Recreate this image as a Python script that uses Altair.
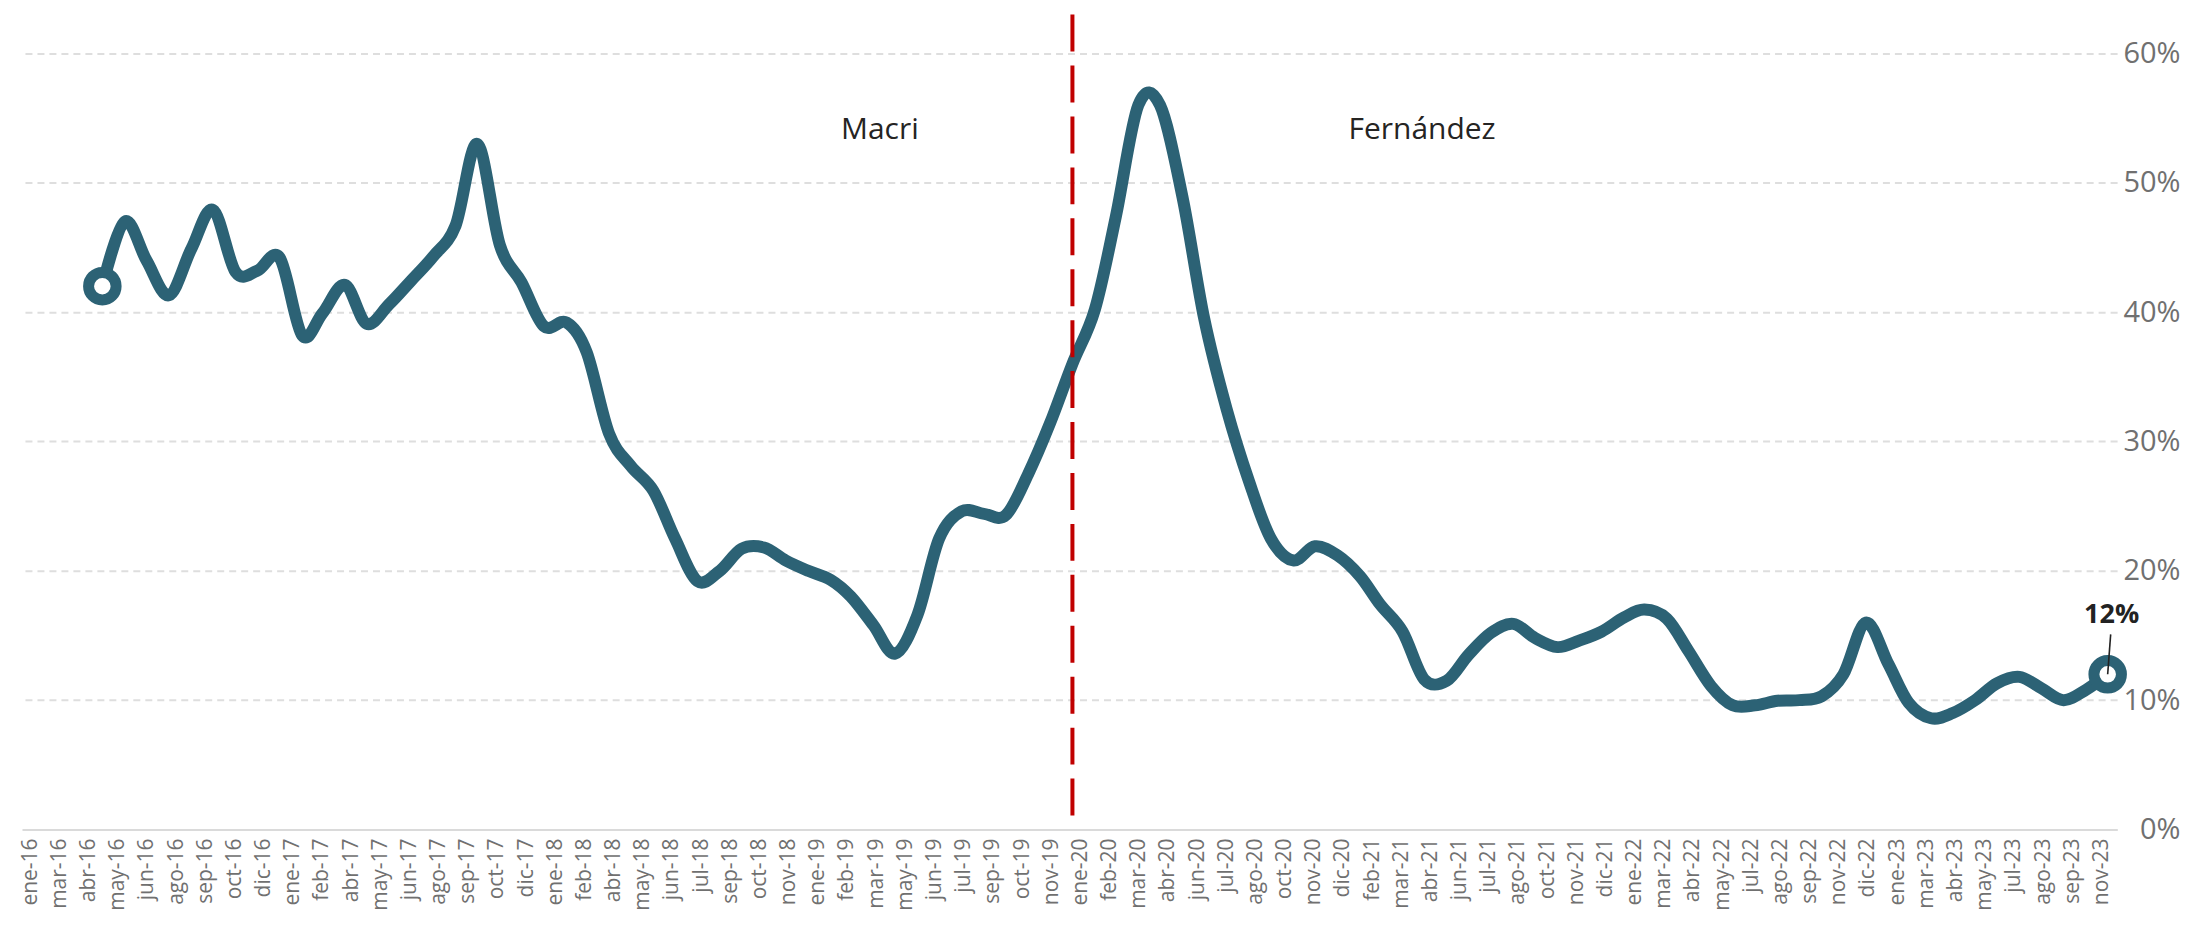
import calendar
import altair as alt
import pandas as pd

# ---- data (percent), one value per month, abr-16 .. nov-23 ----
VALUES_2016 = [42.0, 47.0, 44.0, 41.3, 44.9, 47.9, 43.1, 43.2, 44.2]          # abr-dic
VALUES_2017 = [38.2, 39.9, 42.1, 39.1, 40.6, 42.4, 44.3, 46.7, 53.0, 45.2, 42.3, 38.9]
VALUES_2018 = [39.2, 36.9, 30.6, 28.1, 26.2, 22.5, 19.2, 20.0, 21.7, 21.8, 20.8, 20.0]
VALUES_2019 = [19.3, 18.0, 15.8, 13.6, 16.6, 22.5, 24.6, 24.4, 24.3, 27.5, 31.4, 36.0]
VALUES_2020 = [40.2, 47.4, 56.0, 56.0, 48.9, 39.5, 32.5, 26.9, 22.5, 20.8, 21.9, 21.2]
VALUES_2021 = [19.6, 17.4, 15.3, 11.6, 11.5, 13.5, 15.2, 15.9, 14.8, 14.1, 14.6, 15.3]
VALUES_2022 = [16.4, 17.0, 16.3, 13.8, 11.1, 9.6, 9.6, 9.95, 10.0, 10.3, 12.0, 16.0]
VALUES_2023 = [12.8, 9.8, 8.6, 9.0, 10.0, 11.3, 11.8, 10.9, 10.0, 10.8, 12.0]   # ene-nov

FIRST_MONTH = (2016, 4)

TICK_LABELS = [
    "ene-16", "mar-16", "abr-16", "may-16", "jun-16", "ago-16", "sep-16", "oct-16", "dic-16",
    "ene-17", "feb-17", "abr-17", "may-17", "jun-17", "ago-17", "sep-17", "oct-17", "dic-17",
    "ene-18", "feb-18", "abr-18", "may-18", "jun-18", "jul-18", "sep-18", "oct-18", "nov-18",
    "ene-19", "feb-19", "mar-19", "may-19", "jun-19", "jul-19", "sep-19", "oct-19", "nov-19",
    "ene-20", "feb-20", "mar-20", "abr-20", "jun-20", "jul-20", "ago-20", "oct-20", "nov-20", "dic-20",
    "feb-21", "mar-21", "abr-21", "jun-21", "jul-21", "ago-21", "oct-21", "nov-21", "dic-21",
    "ene-22", "mar-22", "abr-22", "may-22", "jul-22", "ago-22", "sep-22", "nov-22", "dic-22",
    "ene-23", "mar-23", "abr-23", "may-23", "jul-23", "ago-23", "sep-23", "nov-23",
]
Y_TICKS = [0, 10, 20, 30, 40, 50, 60]

PERIODS = ["Macri", "Fernández"]
PERIOD_LABEL_DATES = ["2019-04-09", "2021-04-27"]
PERIOD_LABEL_Y = [53.4, 53.4]
CHANGE_DATE = "2019-12-31"

LINE_COLOR = "#2C6275"
RED = "#C00000"
GREY = "#707070"
FONT = "Open Sans"
PLOT_W, PLOT_H = 2098, 816

# ---- build tables ----
values = (VALUES_2016 + VALUES_2017 + VALUES_2018 + VALUES_2019 +
          VALUES_2020 + VALUES_2021 + VALUES_2022 + VALUES_2023)
dates = []
y, m = FIRST_MONTH
for _ in values:
    dates.append(f"{y:04d}-{m:02d}-{calendar.monthrange(y, m)[1]:02d}")
    m += 1
    if m > 12:
        m = 1
        y += 1
df = pd.DataFrame({"date": dates, "value": values})
ends = df.iloc[[0, len(df) - 1]].reset_index(drop=True)
last = df.iloc[[len(df) - 1]].reset_index(drop=True)
periods = pd.DataFrame({"label": PERIODS, "date": PERIOD_LABEL_DATES, "y": PERIOD_LABEL_Y})

tick_dates = pd.date_range("2016-01-22", "2023-11-22", periods=len(TICK_LABELS))
ticks = pd.DataFrame({
    "date": [t.strftime("%Y-%m-%dT%H:%M:%S") for t in tick_dates],
    "label": TICK_LABELS,
})

x_scale = alt.Scale(domain=[alt.DateTime(year=2016, month=1, date=10, utc=True),
                            alt.DateTime(year=2023, month=12, date=13, utc=True)])
y_scale = alt.Scale(domain=[0, 63], nice=False, zero=True)

x_axis = alt.Axis(
    labels=False,
    ticks=False,
    grid=False,
    domain=True,
    domainColor="#dadada",
    domainWidth=2,
    title=None,
)
y_axis = alt.Axis(
    orient="right",
    values=Y_TICKS,
    labelExpr="datum.value + '%'",
    labelFontSize=29,
    labelColor=GREY,
    labelFont=FONT,
    labelAlign="right",
    labelPadding=63,
    labelBaseline="middle",
    ticks=False,
    domain=False,
    grid=True,
    gridColor="#dedede",
    gridDash=[7, 5],
    gridWidth=2,
    title=None,
)

line = alt.Chart(df).mark_line(
    color=LINE_COLOR, strokeWidth=12, interpolate="cardinal", strokeCap="round", strokeJoin="round"
).encode(
    x=alt.X("date:T", scale=x_scale, axis=x_axis),
    y=alt.Y("value:Q", scale=y_scale, axis=y_axis),
)

tick_text = alt.Chart(ticks).mark_text(
    angle=270, align="right", baseline="middle", font=FONT, fontSize=21, color=GREY
).encode(
    x="date:T",
    y=alt.value(PLOT_H + 9),
    text="label:N",
)

rule = alt.Chart(pd.DataFrame({"date": [CHANGE_DATE]})).mark_rule(
    color=RED, strokeWidth=4, strokeDash=[37, 14]
).encode(
    x="date:T",
    y=alt.datum(63),
    y2=alt.datum(0),
)

points = alt.Chart(ends).mark_point(
    shape="circle", filled=True, fill="white", stroke=LINE_COLOR, strokeWidth=11, size=760, opacity=1
).encode(x="date:T", y="value:Q")

leader = alt.Chart(last).mark_rule(
    color="#222222", strokeWidth=1.6, x2Offset=3, y2Offset=-40
).encode(x="date:T", x2="date:T", y="value:Q", y2="value:Q")

end_label = alt.Chart(last).transform_calculate(
    txt="format(datum.value, '.0f') + '%'"
).mark_text(
    font=FONT, fontSize=27, fontWeight="bold", color="#222222",
    align="center", baseline="alphabetic", dx=4, dy=-51,
).encode(x="date:T", y="value:Q", text="txt:N")

period_text = alt.Chart(periods).mark_text(
    font=FONT, fontSize=30, color="#252423", align="center", baseline="alphabetic"
).encode(x="date:T", y="y:Q", text="label:N")

chart = alt.layer(line, tick_text, rule, points, leader, end_label, period_text).properties(
    width=PLOT_W,
    height=PLOT_H,
    background="white",
    padding={"left": 11, "top": 4, "right": 0, "bottom": 0},
).configure_view(strokeWidth=0)

chart.save("out.html", embed_options={"renderer": "svg", "actions": False})
